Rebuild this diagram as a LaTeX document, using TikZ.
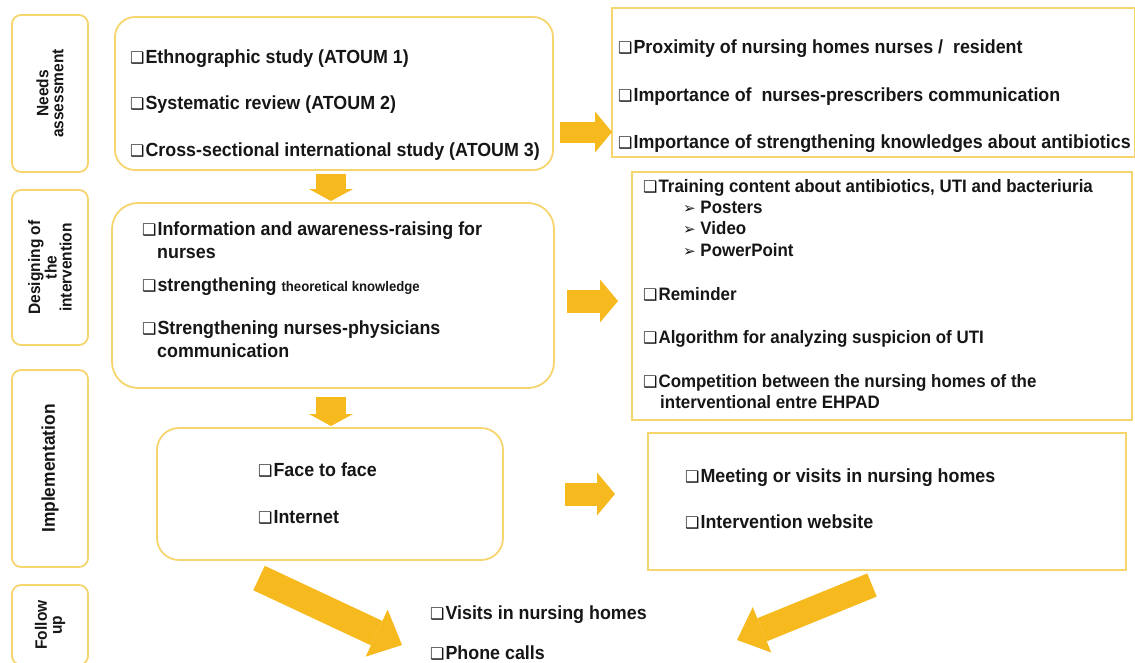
\documentclass[tikz,border=0pt]{standalone}
\usepackage{fontspec}
\setmainfont{Liberation Sans}[FakeStretch=0.94]
\newfontfamily\symfont{DejaVu Sans}
\usetikzlibrary{arrows.meta}
\definecolor{gold}{RGB}{246,212,110}
\definecolor{amber}{RGB}{246,185,30}
\definecolor{ink}{RGB}{22,22,22}
\newcommand\cbx{{\symfont\fontsize{16}{16}\selectfont ❑}\kern1pt}
\newcommand\arw{{\symfont\fontsize{15}{15}\selectfont ➢}}
\begin{document}
\begin{tikzpicture}[x=1pt,y=-1pt,
  frame/.style={draw=gold,line width=1.8pt,inner sep=0pt},
  stage/.style={frame,rounded corners=9pt,rotate=90,align=center,text=ink,
     font=\bfseries\fontsize{16.5}{15}\selectfont},
  item/.style={anchor=base west,inner sep=0pt,text=ink,font=\bfseries\fontsize{19}{19}\selectfont},
  smitem/.style={item,font=\bfseries\fontsize{18}{18}\selectfont},
  blk/.style n args={3}{draw=amber,line width=#1,
     -{Triangle[length=#2,width=#3,line width=0pt]}},
]
\useasboundingbox (0,0) rectangle (1135,662);
% stage labels
\node[stage,minimum width=157,minimum height=76] (s1) at (50,93.5) {Needs\\assessment};
\node[stage,minimum width=155,minimum height=76] (s2) at (50,267.5) {Designing of\\the\\intervention};
\node[stage,minimum width=197,minimum height=76,font=\bfseries\fontsize{18.5}{17}\selectfont] (s3) at (50,468.5) {Implementation};
\node[stage,minimum width=80,minimum height=76] (s4) at (50,625) {Follow\\up};
% main boxes
\node[frame,rounded corners=20pt,minimum width=438,minimum height=153] (b1) at (334,93.5) {};
\node[frame,rounded corners=26pt,minimum width=442,minimum height=185] (b2) at (333,295.5) {};
\node[frame,rounded corners=22pt,minimum width=346,minimum height=132] (b3) at (330,494) {};
\node[frame,minimum width=523,minimum height=149] (r1) at (873.5,82.5) {};
\node[frame,minimum width=500,minimum height=248] (r2) at (882,296) {};
\node[frame,minimum width=478,minimum height=137] (r3) at (887,501.5) {};
% box 1 text
\node[item] (t11) at (130,63) {\cbx Ethnographic study (ATOUM 1)};
\node[item] (t12) at (130,109) {\cbx Systematic review (ATOUM 2)};
\node[item] (t13) at (130,156) {\cbx Cross-sectional international study (ATOUM 3)};
% r1 text
\node[item] (u11) at (618,53) {\cbx Proximity of nursing homes nurses /~ resident};
\node[item] (u12) at (618,101) {\cbx Importance of~ nurses-prescribers communication};
\node[item] (u13) at (618,148) {\cbx Importance of strengthening knowledges about antibiotics};
% box 2 text
\node[item] (t21) at (142,235) {\cbx Information and awareness-raising for};
\node[item] (t22) at (157,258) {nurses};
\node[item] (t23) at (142,291) {\cbx strengthening {\fontsize{14}{14}\selectfont theoretical knowledge}};
\node[item] (t24) at (142,334) {\cbx Strengthening nurses-physicians};
\node[item] (t25) at (157,357) {communication};
% r2 text
\node[smitem] (u21) at (643,192) {\cbx Training content about antibiotics, UTI and bacteriuria};
\node[smitem] (u22) at (683,213) {\arw\ Posters};
\node[smitem] (u23) at (683,234) {\arw\ Video};
\node[smitem] (u24) at (683,256) {\arw\ PowerPoint};
\node[smitem] (u25) at (643,300) {\cbx Reminder};
\node[smitem] (u26) at (643,343) {\cbx Algorithm for analyzing suspicion of UTI};
\node[smitem] (u27) at (643,387) {\cbx Competition between the nursing homes of the};
\node[smitem] (u28) at (660,408) {interventional entre EHPAD};
% box 3 text
\node[item] (t31) at (258,476) {\cbx Face to face};
\node[item] (t32) at (258,523) {\cbx Internet};
% r3 text
\node[item] (u31) at (685,482) {\cbx Meeting or visits in nursing homes};
\node[item] (u32) at (685,528) {\cbx Intervention website};
% follow up text
\node[item] (f1) at (430,619) {\cbx Visits in nursing homes};
\node[item] (f2) at (430,659) {\cbx Phone calls};
% arrow end points
\coordinate (a1s) at (560,132); \coordinate (a1e) at (612,132);
\coordinate (a2s) at (567,301); \coordinate (a2e) at (618,301);
\coordinate (a3s) at (565,494); \coordinate (a3e) at (615,494);
\coordinate (d1s) at (331,174); \coordinate (d1e) at (331,201);
\coordinate (d2s) at (331,397); \coordinate (d2e) at (331,426);
\coordinate (g1s) at (259,578); \coordinate (g1e) at (402,645);
\coordinate (g2s) at (872,585); \coordinate (g2e) at (737,640);
\draw[blk={21pt}{17pt}{41pt}] (a1s) -- (a1e);
\draw[blk={23pt}{18pt}{43pt}] (a2s) -- (a2e);
\draw[blk={23pt}{18pt}{43pt}] (a3s) -- (a3e);
\draw[blk={30pt}{12pt}{44pt}] (d1s) -- (d1e);
\draw[blk={30pt}{12pt}{44pt}] (d2s) -- (d2e);
\draw[blk={27pt}{28pt}{52pt}] (g1s) -- (g1e);
\draw[blk={25pt}{27pt}{49pt}] (g2s) -- (g2e);
\end{tikzpicture}
\end{document}
